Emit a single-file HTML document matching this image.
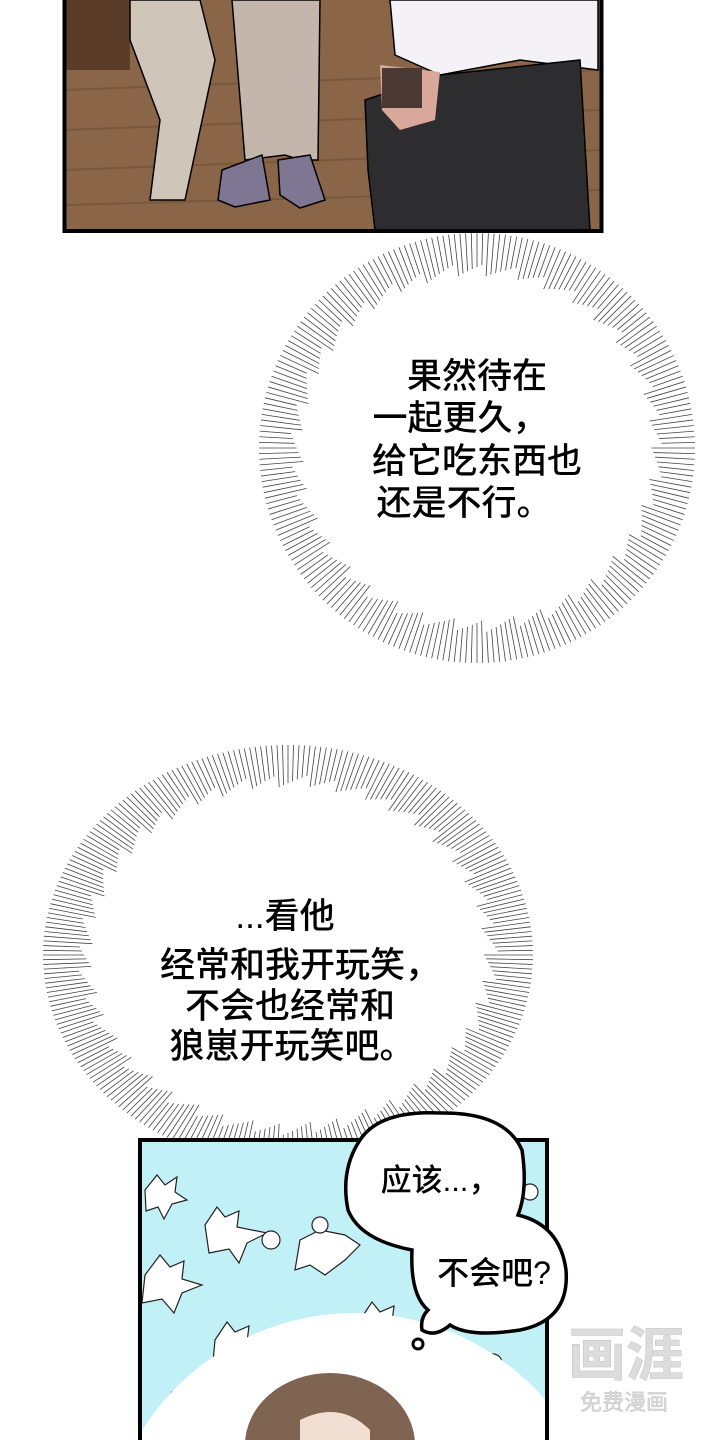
<!DOCTYPE html>
<html><head><meta charset="utf-8"><style>
html,body{margin:0;padding:0;background:#fff;}
body{width:720px;height:1440px;position:relative;overflow:hidden;font-family:"Liberation Sans","Noto Sans CJK SC",sans-serif;}
svg{position:absolute;left:0;top:0;overflow:hidden;}
</style></head><body>
<svg width="720" height="1440" viewBox="0 0 720 1440" xmlns="http://www.w3.org/2000/svg">
<defs>
<clipPath id="tp"><rect x="65" y="0" width="535" height="230"/></clipPath>
<clipPath id="bp"><rect x="140" y="1140" width="407" height="300"/></clipPath>
</defs>
<g clip-path="url(#tp)">
<rect x="65" y="0" width="535" height="230" fill="#8a6548"/>
<g stroke="#6e4f37" stroke-width="2" opacity="0.6">
<line x1="65" y1="90" x2="600" y2="70"/><line x1="65" y1="130" x2="600" y2="110"/><line x1="65" y1="170" x2="600" y2="150"/><line x1="65" y1="205" x2="600" y2="190"/>
</g>
<rect x="65" y="0" width="65" height="70" fill="#5a3c28"/>
<path d="M130 0 L200 0 L215 60 L200 130 L185 200 L150 200 L160 120 L130 40 Z" fill="#cfc5b9" stroke="#000" stroke-width="1.5"/>
<path d="M232 0 L320 0 L318 160 L300 160 L285 155 L245 160 Z" fill="#c4b5ad" stroke="#000" stroke-width="1.5"/>
<path d="M222 170 L262 155 L270 200 L235 207 L218 200 Z" fill="#7f7693" stroke="#000" stroke-width="1.5"/>
<path d="M278 160 L310 155 L325 200 L300 208 L280 195 Z" fill="#7f7693" stroke="#000" stroke-width="1.5"/>
<path d="M390 0 L598 0 L598 70 L520 60 L440 75 L395 55 Z" fill="#f4f2f6" stroke="#000" stroke-width="1.5"/>
<path d="M365 100 L440 75 L580 60 L590 230 L375 230 L368 170 Z" fill="#2d2d2f" stroke="#000" stroke-width="1.5"/>
<path d="M380 65 L440 72 L435 120 L400 130 L382 110 Z" fill="#d9a89a"/>
<rect x="382" y="68" width="40" height="40" fill="#4b3a33"/>
</g>
<rect x="64.5" y="-5" width="537" height="236" fill="none" stroke="#000" stroke-width="4"/>

<g id="b1"></g><g id="b2"></g>

<g clip-path="url(#bp)">
<rect x="140" y="1140" width="407" height="300" fill="#c1f1f6"/>
<g fill="#fff" stroke="#222" stroke-width="1.2">
<path d="M145 1190 l12 -15 l8 10 l12 -8 l-2 15 l12 8 l-15 4 l-8 15 l-6 -12 l-12 4 z"/>
<path d="M205 1225 l12 -18 l8 10 l14 -6 l-2 16 l30 6 l-20 10 l-8 20 l-10 -14 l-20 4 z"/>
<path d="M145 1275 l15 -20 l10 12 l14 -6 l-2 18 l20 6 l-20 8 l-8 20 l-12 -14 l-20 4 z"/>
<path d="M215 1340 l12 -18 l8 10 l14 -6 l-2 16 l18 4 l-18 10 l-8 16 l-10 -14 l-16 4 z"/>
<path d="M160 1410 l12 -18 l8 10 l14 -6 l-2 16 l12 4 l-12 10 l-8 16 l-10 -14 l-16 4 z"/>
<path d="M300 1240 l20 -10 l25 5 l15 10 l-15 15 l-20 15 l-15 -10 l-15 5 z"/>
<path d="M360 1320 l12 -18 l8 10 l14 -6 l-2 16 l12 4 l-12 10 z"/>
<circle cx="320" cy="1225" r="8"/><circle cx="271" cy="1240" r="9"/><circle cx="285" cy="1335" r="7"/><circle cx="493" cy="1363" r="9"/><circle cx="530" cy="1192" r="8"/>
</g>
<circle cx="355" cy="1565" r="252" fill="#fff"/>
<ellipse cx="330" cy="1445" rx="85" ry="72" fill="#7f6451"/>
<path d="M300 1420 Q340 1400 370 1430 L370 1440 L300 1440 Z" fill="#f1dfd3"/>
</g>
<path d="M140 1440 L140 1140 L547 1140 L547 1440" fill="none" stroke="#000" stroke-width="4"/>

<path d="M360 1140 Q380 1110 440 1113 Q505 1112 522 1150 Q528 1190 518 1215 Q560 1225 566 1270 Q570 1320 520 1330 Q470 1338 450 1325 Q435 1338 422 1330 Q420 1318 428 1310 Q410 1295 412 1250 Q360 1240 348 1210 Q340 1170 360 1140 Z" fill="#fff" stroke="#000" stroke-width="3.5"/>
<circle cx="418" cy="1344" r="5" fill="#fff" stroke="#000" stroke-width="3"/>

<g font-family="'Liberation Sans','Noto Sans CJK SC',sans-serif" font-weight="500" fill="#000" text-anchor="middle">
<text x="477" y="388" font-size="35">果然待在</text>
<text x="460" y="430" font-size="35">一起更久，</text>
<text x="477" y="473" font-size="35">给它吃东西也</text>
<text x="464" y="515" font-size="35">还是不行。</text>
<text x="285" y="928" font-size="35">...看他</text>
<text x="300" y="977" font-size="35">经常和我开玩笑，</text>
<text x="290" y="1018" font-size="35">不会也经常和</text>
<text x="292" y="1058" font-size="35">狼崽开玩笑吧。</text>
<text x="440" y="1191" font-size="31">应该...，</text>
<text x="494" y="1284" font-size="32">不会吧?</text>
</g>
<g font-family="'Liberation Sans','Noto Sans CJK SC',sans-serif" fill="#d9d9d9" stroke="#bbb" stroke-width="0.5" text-anchor="middle" opacity="0.9">
<text x="626" y="1375" font-size="58" font-weight="bold">画涯</text>
<text x="624" y="1410" font-size="22">免费漫画</text>
</g>
</svg>
<script>
function burst(id,cx,cy,rx,ry,inner,n){
 var g=document.getElementById(id),s='';
 for(var i=0;i<n;i++){var a=i/n*Math.PI*2,c=Math.cos(a),si=Math.sin(a);
  var k=inner+((i*7919)%13)/13*0.06;
  s+='<line x1="'+(cx+c*rx*k)+'" y1="'+(cy+si*ry*k)+'" x2="'+(cx+c*rx)+'" y2="'+(cy+si*ry)+'" stroke="#444" stroke-width="0.8"/>';}
 s+='<ellipse cx="'+cx+'" cy="'+cy+'" rx="'+rx*inner+'" ry="'+ry*inner+'" fill="#fff"/>';
 g.innerHTML=s;
}
burst('b1',477,448,218,215,0.8,240);
burst('b2',288,955,245,210,0.8,280);
</script>
</body></html>
